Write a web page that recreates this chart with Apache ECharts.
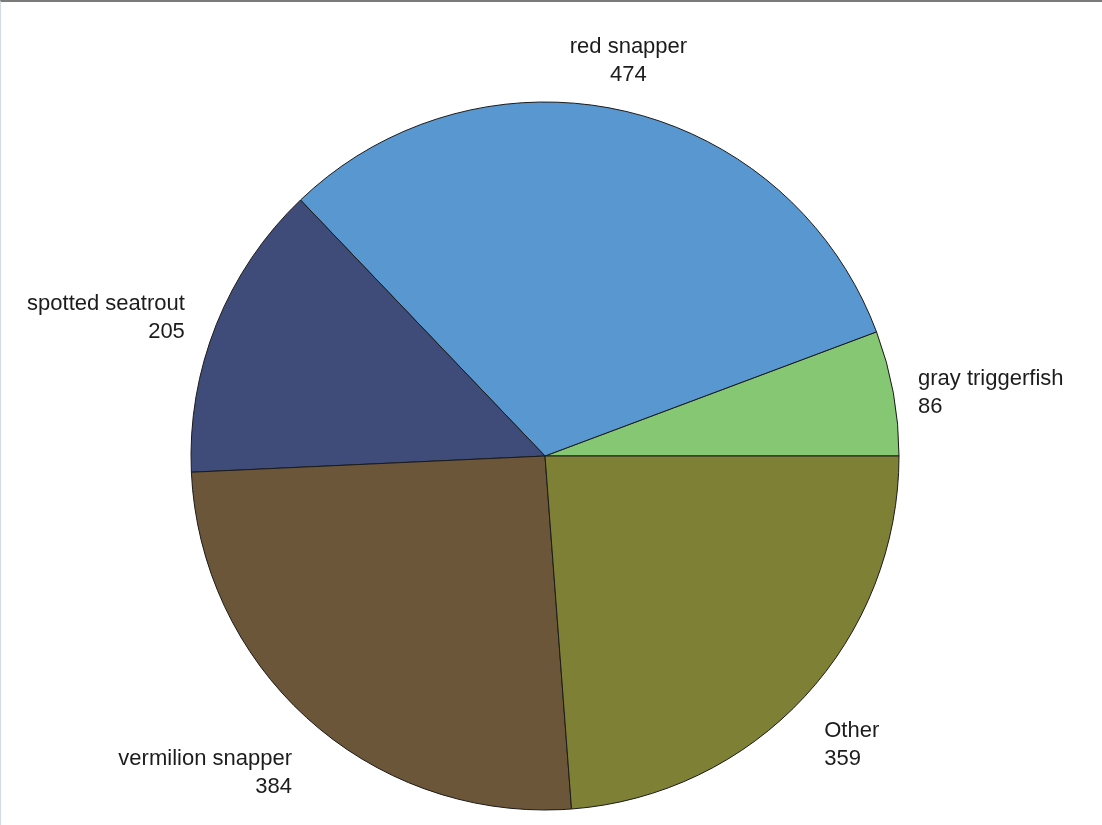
<!DOCTYPE html>
<html>
<head>
<meta charset="utf-8">
<script src="https://cdn.jsdelivr.net/npm/echarts@6/dist/echarts.min.js"></script>
<style>
  html, body { margin: 0; padding: 0; background: #fff; }
  .com-container {
    width: 1102px;
    height: 825px;
    box-sizing: border-box;
    border-top: 2px solid #7b7b7b;
    border-left: 1px solid #d3dbe4;
  }
  .com-chart { width: 100%; height: 100%; }
</style>
</head>
<body>
<div class="com-container"><div class="com-chart" id="chart"></div></div>
<script>
// slices, counter-clockwise starting at 3 o'clock
const categories = ['gray triggerfish', 'red snapper', 'spotted seatrout', 'vermilion snapper', 'Other']
const values = [86, 474, 205, 384, 359]
const colorList = ['#86c774', '#5897cf', '#3f4b79', '#6c5639', '#7e8036']

const chartInstance = echarts.init(document.getElementById('chart'))

const option = {
  animation: false,
  series: [
    {
      type: 'pie',
      center: [544, 454],
      radius: 354,
      startAngle: 0,
      clockwise: false,
      avoidLabelOverlap: false,
      itemStyle: {
        borderColor: '#1a1a1a',
        borderWidth: 1
      },
      label: {
        position: 'outside',
        formatter: '{b}\n{c}',
        fontFamily: 'Liberation Sans, Arial, sans-serif',
        fontSize: 22,
        lineHeight: 28,
        color: '#1c1c1c'
      },
      labelLine: {
        show: false,
        length: 20,
        length2: 0
      },
      emphasis: { disabled: true },
      data: categories.map((name, i) => ({
        name,
        value: values[i],
        itemStyle: { color: colorList[i] }
      }))
    }
  ]
}

// small nudges so the labels sit where the original puts them
option.series[0].labelLayout = params => {
  const i = params.dataIndex
  if (i === 0) return { dy: 4 }
  if (i === 1) return { dy: -30, dx: -5, align: 'center' }
  if (i === 2) return { dx: -8, dy: 1 }
  if (i === 3) return { dy: 37 }
  if (i === 4) return { dy: 35 }
  return {}
}

chartInstance.setOption(option)
</script>
</body>
</html>
